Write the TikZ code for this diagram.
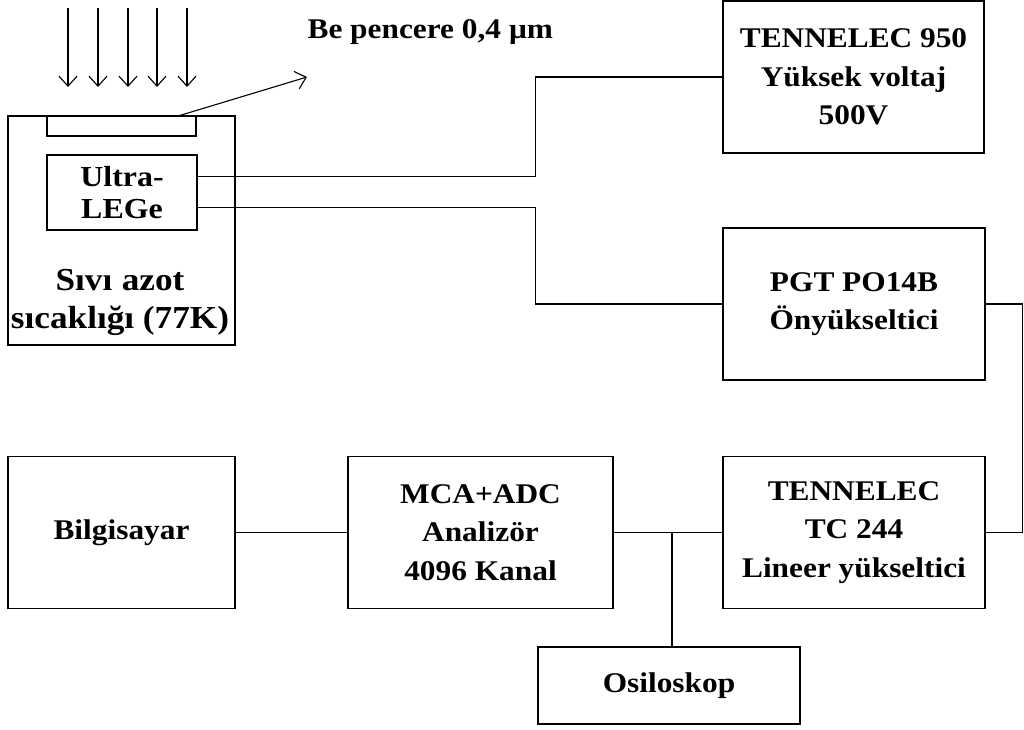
\documentclass[tikz,border=0pt]{standalone}
\usepackage{fontspec}
\setmainfont{Liberation Serif}[FakeStretch=1.1]
\usetikzlibrary{arrows.meta,calc}
\begin{document}
\begin{tikzpicture}[x=1pt,y=-1pt,
  line width=1.2pt,
  box/.style={draw, rectangle, inner sep=0pt, align=center,
    font=\fontsize{28.5}{38.5}\selectfont\bfseries},
  lbl/.style={inner sep=0pt, align=center, font=\fontsize{28.5}{38.5}\selectfont\bfseries},
  ray/.style={-{Straight Barb[length=10pt,width=18pt]}, line width=1.1pt}]
\useasboundingbox (0,0) rectangle (1024,729);
\fill[white] (0,0) rectangle (1024,729);

% detector
\node[box, minimum width=227pt, minimum height=229pt] (det) at (121.5,230.5) {};
\node[box, minimum width=149pt, minimum height=20pt] (win) at (121.5,126) {};
\node[box, minimum width=150pt, minimum height=75pt, font=\fontsize{29}{32}\selectfont\bfseries] (ultra) at (122,192.5) {Ultra-\\LEGe};
\node[lbl, font=\fontsize{32}{38}\selectfont\bfseries] (ln2) at (120,302) {Sıvı\hspace{0.3em}azot\\sıcaklığı (77K)};
\node[lbl, anchor=base west] (be) at (307,38) {Be pencere 0,4 μm};

% incoming rays
\foreach \i/\x in {1/68,2/98,3/128,4/157,5/187}{
  \coordinate (rs\i) at (\x,8);
  \coordinate (re\i) at (\x,87);
  \draw[ray] (rs\i) -- (re\i);
}
\coordinate (wa) at (178,116);
\coordinate (wb) at (307,77);
\draw[ray] (wa) -- (wb);

% boxes
\node[box, minimum width=261pt, minimum height=152pt] (hv) at (853.5,77) {TENNELEC 950\\Yüksek voltaj\\500V};
\node[box, minimum width=262pt, minimum height=152pt] (pgt) at (854,304) {PGT PO14B\\Önyükseltici};
\node[box, minimum width=262pt, minimum height=152pt] (tc) at (854,532.5) {TENNELEC\\TC 244\\Lineer yükseltici};
\node[box, minimum width=265pt, minimum height=152pt] (mca) at (480.5,532.5) {MCA+ADC\\Analizör\\4096 Kanal};
\node[box, minimum width=227pt, minimum height=152pt] (pc) at (121.5,532.5) {Bilgisayar};
\node[box, minimum width=262pt, minimum height=77pt] (osc) at (669,685.5) {Osiloskop};

% connectors
\coordinate (u1) at ($(ultra.north east)!0.293!(ultra.south east)$);
\coordinate (u2) at ($(ultra.north east)!0.693!(ultra.south east)$);
\draw (u1) -| ($(hv.west)+(-187,0)$) -- (hv.west);
\draw (u2) -| ($(pgt.west)+(-187,0)$) -- (pgt.west);
\draw (pgt.east) -- ++(37,0) |- (tc.east);
\draw (tc.west) -- (mca.east);
\draw (pc.east) -- (mca.west);
\coordinate (j) at (672,532.5);
\draw (j) -- (j |- osc.north);
\end{tikzpicture}
\end{document}
